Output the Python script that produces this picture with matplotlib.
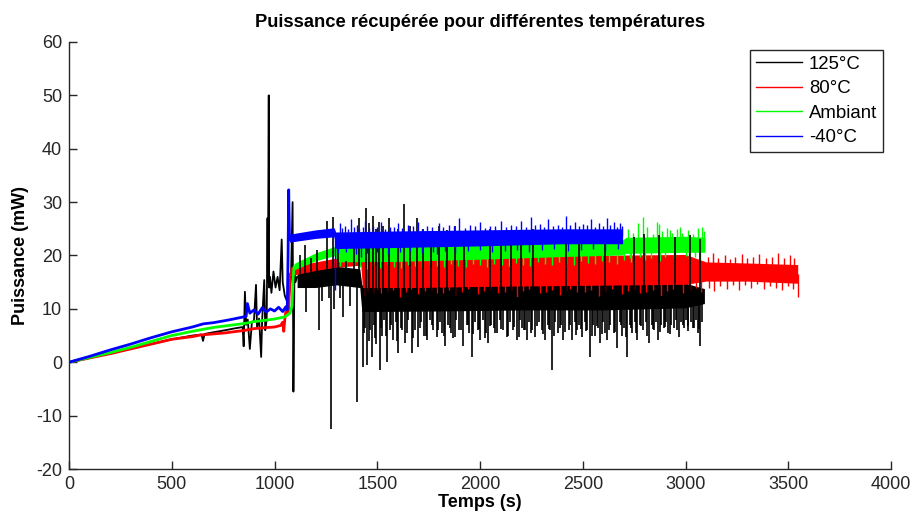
import numpy as np
import matplotlib
matplotlib.use("Agg")
import matplotlib.pyplot as plt

plt.rcParams["font.family"] = ["Liberation Sans", "DejaVu Sans"]
plt.rcParams["axes.unicode_minus"] = False

# --- Data (time in s, power in mW) ---
# low-noise start of each record
black_t = [0, 100, 200, 300, 400, 500, 600, 645, 652, 660, 700, 760, 800, 845, 850, 856, 862, 870, 880,
           890, 900, 910, 915, 925, 935, 940, 950, 955, 962, 966, 968, 972, 974, 978, 985, 995, 1005, 1015,
           1025, 1035, 1040, 1050, 1060, 1070, 1080, 1088, 1092, 1097, 1102, 1110]
black_v = [0, 0.8, 1.7, 2.6, 3.4, 4.3, 5.0, 5.2, 4.0, 5.3, 5.6, 6.0, 6.3, 6.6, 3.0, 13.2, 7.0, 8.0, 2.5,
           7.5, 7.8, 14.5, 6.5, 8.2, 1.0, 8.0, 15.4, 6.0, 8.0, 27.0, 15.0, 50.0, 14.0, 16.0, 13.0, 17.0, 14.0,
           16.0, 13.5, 23.0, 15.0, 12.5, 11.5, 12.0, 15.5, 30.0, -5.5, 16.5, 15.0, 16.0]

red_t = [0, 100, 200, 300, 400, 500, 600, 640, 700, 760, 800, 860, 900, 960, 1000, 1030, 1040, 1045,
         1050, 1056, 1062, 1068, 1071, 1075]
red_v = [0, 0.8, 1.6, 2.5, 3.4, 4.3, 4.8, 5.1, 5.3, 5.5, 5.7, 6.0, 6.3, 6.5, 6.6, 6.9, 7.5, 5.8,
         8.0, 9.8, 9.0, 9.6, 12.0, 16.5]

green_t = [0, 100, 200, 300, 400, 500, 600, 700, 800, 860, 900, 960, 1000, 1050, 1075, 1085, 1090, 1095]
green_v = [0, 0.9, 1.8, 2.8, 3.9, 5.0, 5.8, 6.5, 7.0, 7.3, 7.6, 7.9, 8.1, 8.5, 9.2, 10.5, 15.5, 17.8]

blue_t = [0, 100, 200, 300, 400, 500, 600, 654, 700, 760, 800, 850, 862, 868, 880, 900, 920, 940, 960,
          980, 1000, 1020, 1040, 1055, 1062, 1066, 1069, 1073]
blue_v = [0, 1.1, 2.3, 3.4, 4.6, 5.7, 6.6, 7.2, 7.4, 7.8, 8.1, 8.5, 8.6, 11.0, 9.2, 9.8, 9.0, 10.2, 9.4,
          10.0, 9.6, 10.3, 9.5, 10.4, 9.8, 20.0, 32.3, 23.0]

# dense-noise envelopes (low / high edge of the band)
black_band_t = [1110, 1200, 1300, 1415, 1425, 1800, 2200, 2600, 3000, 3092]
black_band_lo = [14.0, 14.0, 14.5, 14.0, 9.5, 9.6, 9.8, 9.8, 10.2, 11.0]
black_band_hi = [17.5, 18.0, 18.0, 17.5, 14.5, 14.5, 14.5, 14.8, 14.8, 13.8]

red_band_t = [1075, 1200, 1300, 1420, 1428, 1700, 2000, 2500, 3000, 3100, 3300, 3546]
red_band_lo = [16.2, 17.2, 17.8, 18.2, 14.0, 14.0, 14.2, 14.4, 14.6, 15.2, 15.2, 14.8]
red_band_hi = [17.8, 18.8, 19.5, 20.0, 19.5, 19.6, 20.0, 20.0, 20.2, 18.8, 18.6, 18.3]

green_band_t = [1095, 1200, 1295, 1305, 1600, 2000, 2400, 2690, 2710, 3000, 3095]
green_band_lo = [17.3, 19.0, 20.0, 18.8, 18.9, 19.3, 19.8, 20.1, 20.4, 20.6, 20.6]
green_band_hi = [18.5, 20.5, 21.7, 21.5, 21.8, 22.2, 22.6, 22.8, 23.4, 23.6, 23.4]

blue_band_t = [1073, 1200, 1290, 1298, 1600, 2000, 2400, 2694]
blue_band_lo = [22.5, 23.2, 23.5, 21.3, 21.5, 21.8, 22.2, 22.2]
blue_band_hi = [24.0, 24.8, 25.2, 24.4, 24.6, 24.8, 25.0, 25.0]

# individual spikes sticking out of the bands
black_spk_t = [1125, 1150, 1153, 1180, 1205, 1218, 1232, 1255, 1265, 1275, 1285, 1290, 1310, 1320, 1335,
               1350, 1365, 1385, 1400, 1410, 1432, 1440, 1445, 1449, 1460, 1462, 1473, 1478, 1485, 1495,
               1496, 1510, 1514, 1525, 1530, 1535, 1546, 1555, 1560, 1578, 1590, 1600, 1603, 1615, 1630,
               1635, 1650, 1660, 1668, 1682, 1695, 1700, 1715, 1725, 1728, 1740, 1755, 1760, 1770, 1789,
               1800, 1805, 1815, 1830, 1840, 1845, 1858, 1870, 1880, 1885, 1900, 1919, 1920, 1935, 1948,
               1960, 1975, 1988, 2000, 2015, 2028, 2041, 2050, 2055, 2068, 2082, 2095, 2100, 2110, 2130,
               2145, 2150, 2160, 2179, 2195, 2200, 2206, 2220, 2227, 2240, 2255, 2260, 2268, 2285, 2300,
               2316, 2330, 2340, 2352, 2365, 2380, 2392, 2406, 2420, 2433, 2446, 2460, 2472, 2480, 2483,
               2495, 2510, 2522, 2536, 2550, 2562, 2572, 2584, 2598, 2608, 2610, 2620, 2635, 2650, 2666,
               2680, 2692, 2703, 2714, 2728, 2740, 2750, 2752, 2763, 2778, 2792, 2800, 2806, 2820, 2835,
               2848, 2858, 2868, 2870, 2882, 2895, 2906, 2917, 2930, 2943, 2950, 2955, 2966, 2980, 2992,
               3003, 3014, 3020, 3028, 3040, 3050, 3060, 3070, 3071, 3082,
               1437, 1467, 1490, 1519, 1541, 1566, 1596, 1622, 1644, 1675, 1708, 1735, 1764, 1795, 1824,
               1852, 1877, 1908, 1941, 1968, 1995, 2022, 2048, 2075, 2103, 2137, 2166, 2188, 2213, 2247,
               2276, 2308, 2335, 2358, 2387, 2413, 2440, 2466, 2490, 2516, 2543, 2567, 2592, 2626, 2656,
               2686, 2710, 2734, 2758, 2785, 2812, 2842, 2875, 2900, 2925, 2960, 2986, 3010, 3035, 3065]
black_spk_v = [20.0, 22.0, 9.5, 19.5, 21.0, 6.0, 11.5, 26.5, 12.0, -12.5, 27.3, 10.0, 21.5, 12.0, 8.5,
               19.0, 10.5, 24.0, -7.5, 27.0, -0.8, 6.5, 28.9, -0.5, 4.0, 26.0, 1.0, 27.4, 7.0, 25.0,
               3.5, 26.3, -1.5, 5.0, 25.5, 8.0, 0.0, 27.0, 6.0, 4.2, 7.5, 25.0, 1.7, 6.5, 29.6,
               3.6, 8.0, 25.5, 1.8, 6.0, 27.0, 2.9, 7.5, 25.0, 5.0, 4.2, 8.0, 24.5, 6.0, 4.8,
               25.5, 7.5, 5.5, 3.0, 24.8, 7.0, 5.5, 4.5, 25.5, 8.0, 6.0, 3.0, 24.5, 7.0, 5.5,
               1.0, 7.5, 6.0, 4.2, 8.0, 5.5, 3.6, 25.0, 7.0, 6.5, 5.5, 8.0, 24.5, 6.0, 4.8,
               7.5, 24.8, 6.0, 4.2, 8.0, 24.5, 6.5, 6.0, 4.2, 7.5, 6.0, 25.0, 4.8, 7.5, 6.0,
               4.2, 7.0, 6.0, -1.5, 7.5, 5.5, 7.0, 4.2, 24.0, 6.0, 4.2, 7.5, 6.0, 24.5, 7.0,
               4.8, 7.5, 6.0, 1.0, 7.0, 5.0, 6.5, 3.6, 7.5, 5.5, 24.3, 4.2, 7.0, 5.5, 2.6,
               7.5, 5.0, 6.5, 1.0, 7.0, 5.5, 23.5, 7.5, 4.2, 7.0, 6.0, 24.0, 7.5, 3.6, 7.0,
               6.0, 7.5, 4.2, 23.8, 7.0, 6.5, 7.5, 5.5, 7.0, 6.5, 23.5, 8.0, 4.8, 7.5, 6.5,
               8.0, 6.7, 23.8, 7.5, 6.5, 8.0, 5.5, 23.0, 3.0, 7.5,
               5.5, 6.0, 4.5, 6.5, 5.0, 7.0, 4.0, 6.0, 5.5, 4.5, 6.5, 5.0, 7.0, 6.0, 5.0,
               6.5, 4.8, 6.0, 7.0, 5.2, 6.2, 4.6, 6.8, 5.5, 6.3, 5.0, 6.6, 4.8, 6.0, 5.4,
               6.8, 5.2, 6.2, 4.9, 6.5, 5.6, 6.9, 5.1, 6.3, 5.8, 4.9, 6.7, 5.3, 6.1, 5.6,
               6.9, 4.7, 6.4, 5.5, 6.8, 5.0, 6.2, 5.7, 6.6, 5.3, 6.0, 6.9, 5.8, 6.5, 6.2]

red_spk_t = [1440, 1520, 1610, 1700, 1790, 1880, 1990, 2090, 2180, 2290, 2390, 2470, 2580, 2690, 2780,
             2880, 2990, 3075, 1455, 1480, 1505, 1550, 1575, 1640, 1665, 1730, 1760, 1820, 1850, 1910,
             1940, 2020, 2050, 2120, 2150, 2210, 2240, 2320, 2350, 2420, 2440, 2510, 2540, 2610, 2640,
             2720, 2750, 2810, 2840, 2910, 2940, 3020, 3050,
             3110, 3115, 3135, 3140, 3160, 3170, 3190, 3200, 3215, 3230, 3240, 3260,
             3275, 3290, 3300, 3320, 3330, 3350, 3360, 3380, 3390, 3410, 3420, 3440, 3450, 3470, 3480,
             3500, 3510, 3525, 3530, 3546]
red_spk_v = [12.5, 13.0, 12.2, 12.8, 13.0, 12.4, 12.8, 13.0, 12.3, 12.9, 12.6, 13.1, 12.4, 12.8, 13.0,
             12.5, 12.9, 13.2, 13.4, 13.0, 13.6, 13.2, 13.5, 13.1, 13.7, 13.3, 13.6, 13.0, 13.5, 13.2,
             13.7, 13.3, 13.6, 13.1, 13.5, 13.4, 13.8, 13.2, 13.6, 13.3, 13.7, 13.1, 13.6, 13.4, 13.8,
             13.3, 13.7, 13.2, 13.6, 13.4, 13.8, 13.5, 13.9,
             19.8, 14.0, 20.5, 13.3, 19.5, 14.2, 20.0, 13.8, 19.3, 14.5, 19.8, 13.6,
             20.2, 14.4, 19.5, 13.9, 19.8, 14.6, 20.3, 13.8, 19.5, 14.3, 19.8, 14.0, 20.5, 13.6, 19.6,
             14.3, 20.0, 13.8, 19.5, 12.3]

green_spk_t = [2720, 2730, 2745, 2770, 2780, 2791, 2815, 2830, 2840, 2860, 2871, 2885, 2900, 2910, 2924,
               2935, 2950, 2960, 2972, 2985, 3000, 3010, 3035, 3048, 3060, 3078, 3090,
               1320, 1350, 1385, 1415, 1450, 1480, 1515, 1550, 1580, 1615, 1650, 1685, 1720, 1755, 1790,
               1825, 1860, 1895, 1930, 1965, 2000, 2035, 2070, 2105, 2140, 2175, 2210, 2245, 2280, 2315,
               2350, 2385, 2420, 2455, 2490, 2525, 2560, 2595, 2630, 2665, 2700, 2735, 2805, 2875, 2945,
               3015, 3070]
green_spk_v = [25.0, 19.5, 24.2, 26.0, 19.8, 27.3, 25.3, 19.6, 24.0, 26.3, 25.9, 24.6, 19.7, 25.2, 24.8,
               24.3, 19.8, 25.0, 25.4, 24.2, 19.9, 24.8, 24.1, 19.8, 25.2, 25.3, 24.5,
               18.0, 17.6, 18.2, 17.8, 17.5, 18.1, 17.7, 18.3, 17.9, 17.6, 18.2, 18.0, 17.7, 18.3, 18.0,
               17.8, 18.4, 18.1, 17.9, 18.5, 18.2, 17.9, 18.5, 18.3, 18.0, 18.6, 18.3, 18.1, 18.7, 18.4,
               18.2, 18.8, 18.5, 18.2, 18.9, 18.6, 18.4, 19.0, 18.7, 18.5, 19.1, 18.8, 19.2, 19.0, 19.3,
               19.3, 19.0]

blue_spk_t = [1294, 1320, 1345, 1370, 1400, 1420, 1440, 1480, 1520, 1560, 1600, 1650, 1700, 1740, 1790,
              1800, 1850, 1900, 1950, 2000, 2050, 2100, 2150, 2200, 2250, 2290, 2330, 2380, 2420, 2460,
              2500, 2540, 2580, 2620, 2650, 2680,
              1330, 1357, 1385, 1410, 1430, 1460, 1500, 1540, 1580, 1620, 1675, 1720, 1765, 1820, 1875,
              1925, 1975, 2025, 2075, 2125, 2175, 2225, 2270, 2310, 2355, 2400, 2440, 2480, 2520, 2560,
              2600, 2635, 2665, 2690,
              1310, 1350, 1395, 1450, 1500, 1550, 1610, 1660, 1720, 1770, 1830, 1880, 1940, 2000, 2060,
              2120, 2180, 2240, 2300, 2360, 2430, 2490, 2550, 2610, 2670]
blue_spk_v = [13.5, 26.0, 25.5, 26.8, 25.8, 19.8, 26.5, 25.6, 26.2, 25.4, 26.1, 25.7, 26.3, 25.5, 20.2,
              26.0, 25.8, 27.0, 25.7, 26.2, 25.5, 26.5, 25.8, 26.4, 27.2, 25.9, 26.8, 25.7, 27.4, 26.2,
              25.9, 26.8, 26.1, 27.1, 26.3, 26.0,
              25.2, 24.9, 25.4, 25.0, 25.3, 25.1, 25.4, 24.9, 25.3, 25.2, 25.5, 25.0, 25.4, 25.3, 25.6,
              25.1, 25.5, 25.2, 25.6, 25.3, 25.5, 25.4, 25.8, 25.3, 25.6, 25.4, 25.7, 25.5, 25.8, 25.3,
              25.6, 25.7, 25.4, 25.5,
              20.4, 20.6, 20.2, 20.5, 20.7, 20.3, 20.6, 20.8, 20.4, 20.7, 20.9, 20.5, 20.8, 21.0, 20.6,
              20.9, 21.1, 20.7, 21.0, 21.2, 20.8, 21.1, 21.3, 20.9, 21.2]

labels = ["125°C", "80°C", "Ambiant", "-40°C"]
colors = ["#000000", "#ff0000", "#00ff00", "#0000ff"]

series = [
    (black_t, black_v, black_band_t, black_band_lo, black_band_hi, black_spk_t, black_spk_v),
    (red_t, red_v, red_band_t, red_band_lo, red_band_hi, red_spk_t, red_spk_v),
    (green_t, green_v, green_band_t, green_band_lo, green_band_hi, green_spk_t, green_spk_v),
    (blue_t, blue_v, blue_band_t, blue_band_lo, blue_band_hi, blue_spk_t, blue_spk_v),
]

fig = plt.figure(figsize=(9.13, 5.15), dpi=100)
ax = fig.add_axes([69 / 913, 46 / 515, 822 / 913, 427 / 515])

for i, (tt, vv, bt, blo, bhi, st, sv) in enumerate(series):
    z = 2 + i
    c = colors[i]
    # noisy start drawn a bit thicker, like the original trace
    ax.plot(tt, vv, color=c, lw=(1.3 if i == 0 else 2.0), zorder=z)
    ax.fill_between(bt, blo, bhi, color=c, lw=0, zorder=z)
    mid = (np.array(blo) + np.array(bhi)) / 2
    base = np.interp(st, bt, mid)
    # black spikes show through the coloured bands in the original
    ax.vlines(st, base, sv, color=c, lw=(1.2 if i == 0 else 1.0), zorder=(4.5 if i == 0 else z))
    ax.plot([], [], color=c, lw=1.0, label=labels[i])

ax.set_xlim(0, 4000)
ax.set_ylim(-20, 60)
ax.set_xticks(np.arange(0, 4001, 500))
ax.set_yticks(np.arange(-20, 61, 10))

for s in ["top", "right"]:
    ax.spines[s].set_visible(False)
for s in ["left", "bottom"]:
    ax.spines[s].set_color("#262626")
    ax.spines[s].set_linewidth(1.0)
ax.tick_params(direction="in", length=6, width=1.0, colors="#262626", labelsize=13, pad=5)

ax.set_title("Puissance récupérée pour différentes températures", fontsize=13.2,
             fontweight="bold", pad=11)
ax.set_xlabel("Temps (s)", fontsize=13, fontweight="bold", labelpad=1)
ax.set_ylabel("Puissance (mW)", fontsize=13, fontweight="bold", labelpad=5)

leg = ax.legend(loc="upper right", bbox_to_anchor=(0.990, 0.981), borderaxespad=0,
                fontsize=13.4, handlelength=2.5, handletextpad=0.35, labelspacing=0.4,
                fancybox=False, framealpha=1, borderpad=0.3)
leg.get_frame().set_edgecolor("#262626")
leg.get_frame().set_linewidth(1.0)

fig.savefig("out.png", dpi=100)
